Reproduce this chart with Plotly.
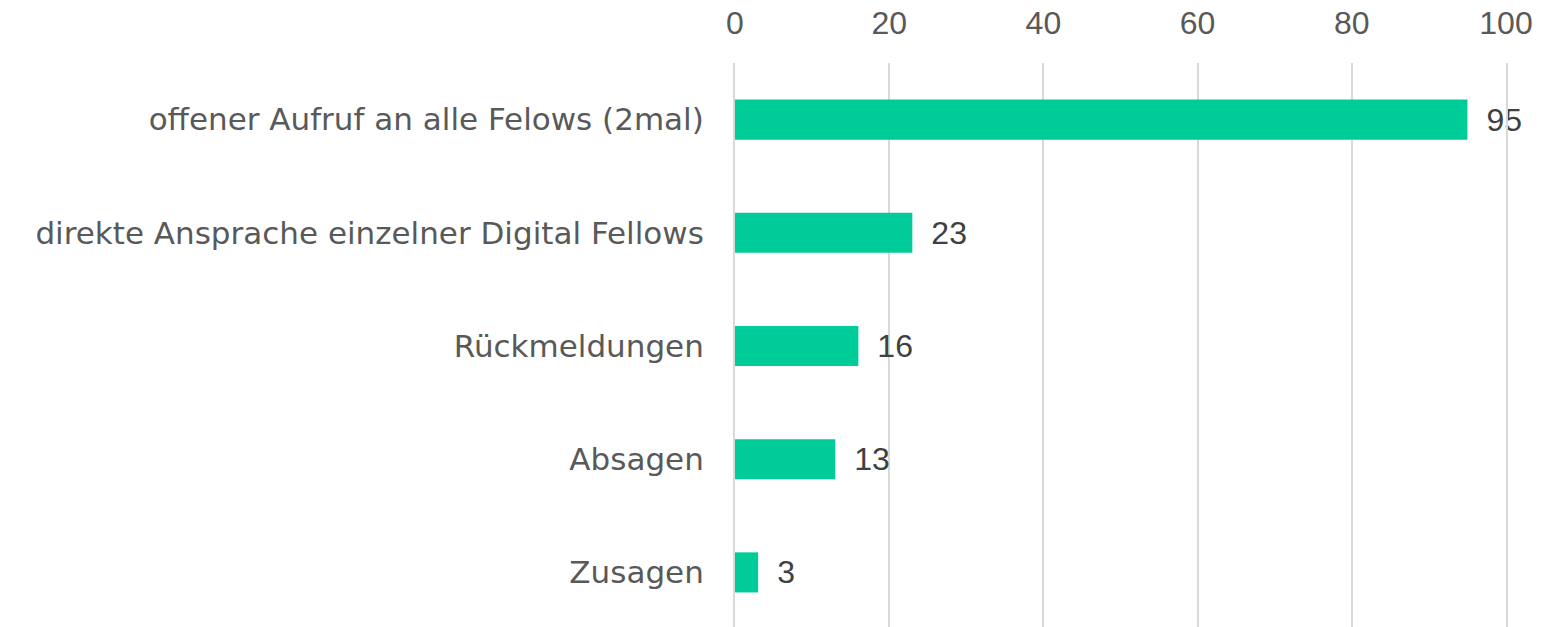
import plotly.graph_objects as go

categories = ["offener Aufruf an alle Felows (2mal)",
              "direkte Ansprache einzelner Digital Fellows",
              "Rückmeldungen", "Absagen", "Zusagen"]
values = [95, 23, 16, 13, 3]
tick_vals = [0, 20, 40, 60, 80, 100]

fig = go.Figure(go.Bar(
    x=values, y=categories, orientation="h",
    marker=dict(color="#00CC99", line=dict(width=0)),
    text=values, texttemplate="\u2002%{x}", textposition="outside",
    textfont=dict(size=32, color="#404040", family="Liberation Sans"),
    cliponaxis=False,
))
fig.update_layout(
    width=1550, height=627,
    margin=dict(l=727, r=52, t=55, b=6),
    paper_bgcolor="white", plot_bgcolor="white",
    bargap=0.646, showlegend=False,
    font=dict(family="Liberation Sans", color="#595959", size=29),
)
fig.update_xaxes(side="top", range=[0, 100], tickvals=tick_vals, automargin=False,
                 showgrid=True, gridcolor="#D9D9D9", gridwidth=2,
                 zeroline=False, showline=False, ticks="",
                 tickfont=dict(size=32, color="#595959"), ticklabelstandoff=22)
fig.update_yaxes(categoryorder="array", categoryarray=categories[::-1], automargin=False,
                 showgrid=False, ticks="", showline=True, mirror=True,
                 linecolor="#D9D9D9", linewidth=2,
                 tickfont=dict(size=31, color="#595959", family="DejaVu Sans"),
                 ticklabelstandoff=23)
fig.write_html("out.html")
